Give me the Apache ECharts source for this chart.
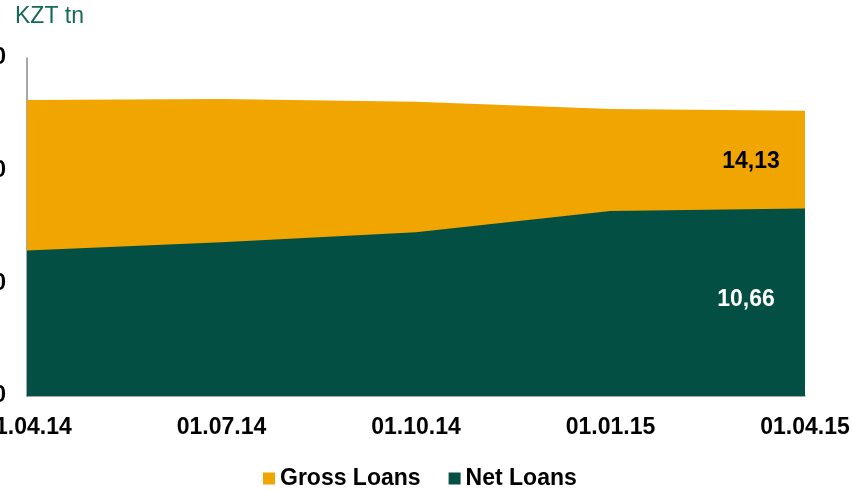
<!DOCTYPE html>
<html>
<head>
<meta charset="utf-8">
<title>Gross and Net Loans</title>
<script src="https://cdn.jsdelivr.net/npm/echarts@6.0.0/dist/echarts.min.js"></script>
<style>
  html, body { margin: 0; padding: 0; background: #fff; }
  #main { width: 852px; height: 490px; }
</style>
</head>
<body>
<div id="main"></div>
<script type="text/javascript">
  // dates on the x axis
  var dates = ['01.04.14', '01.07.14', '01.10.14', '01.01.15', '01.04.15'];
  // KZT tn (last points are labelled)
  var grossLoans = [14.51, 14.54, 14.45, 14.19, 14.13];
  var netLoans = [9.17, 9.46, 9.81, 10.57, 10.66];
  // y axis ticks
  var yMin = 4, yMax = 16, yStep = 4;

  var FONT = 'Arial, "Liberation Sans", sans-serif';

  var chart = echarts.init(document.getElementById('main'));

  // only the last point of each series carries a label
  function withLastLabel(values, color, offset) {
    return values.map(function (v, i) {
      if (i !== values.length - 1) return v;
      return {
        value: v,
        label: {
          show: true,
          position: 'inside',
          align: 'center',
          verticalAlign: 'middle',
          offset: offset,
          color: color,
          fontFamily: FONT,
          fontWeight: 'bold',
          fontSize: 23,
          formatter: function (p) { return p.value.toFixed(2).replace('.', ','); }
        }
      };
    });
  }

  var option = {
    animation: false,
    title: {
      text: 'KZT tn',
      left: 10,
      top: 0,
      textStyle: { color: '#17695A', fontFamily: FONT, fontWeight: 'normal', fontSize: 23 }
    },
    legend: {
      data: ['Gross Loans', 'Net Loans'],
      left: 258,
      top: 462,
      icon: 'rect',
      itemWidth: 12,
      itemHeight: 12,
      itemGap: 28,
      textStyle: { color: '#000', fontFamily: FONT, fontWeight: 'bold', fontSize: 23 }
    },
    grid: {
      left: 27, right: 47, top: 58, bottom: 94,
      containLabel: false,
      outerBoundsMode: 'none'
    },
    xAxis: {
      type: 'category',
      boundaryGap: false,
      data: dates,
      axisLine: { lineStyle: { color: '#8a8a8a', width: 1.5 } },
      axisTick: { show: false },
      axisLabel: {
        margin: 20,
        color: '#000',
        fontFamily: FONT,
        fontWeight: 'bold',
        fontSize: 23,
        interval: 0
      },
      splitLine: { show: false }
    },
    yAxis: {
      type: 'value',
      min: yMin,
      max: yMax,
      interval: yStep,
      axisLine: { show: true, lineStyle: { color: '#8a8a8a', width: 1.5 } },
      axisTick: { show: false },
      axisLabel: {
        margin: 21,
        color: '#000',
        fontFamily: FONT,
        fontWeight: 'bold',
        fontSize: 23,
        formatter: function (v) { return v.toFixed(1).replace('.', ','); }
      },
      splitLine: { show: false }
    },
    series: [
      {
        name: 'Gross Loans',
        type: 'line',
        clip: false,
        symbol: 'circle',
        symbolSize: 0,
        showSymbol: true,
        color: '#F0A500',
        lineStyle: { width: 0 },
        areaStyle: { color: '#F0A500', opacity: 1, origin: 'start' },
        data: withLastLabel(grossLoans, '#000', [-54, 51])
      },
      {
        name: 'Net Loans',
        type: 'line',
        clip: false,
        symbol: 'circle',
        symbolSize: 0,
        showSymbol: true,
        color: '#034F44',
        lineStyle: { width: 0 },
        areaStyle: { color: '#034F44', opacity: 1, origin: 'start' },
        data: withLastLabel(netLoans, '#fff', [-59, 91])
      }
    ]
  };

  chart.setOption(option);
</script>
</body>
</html>
